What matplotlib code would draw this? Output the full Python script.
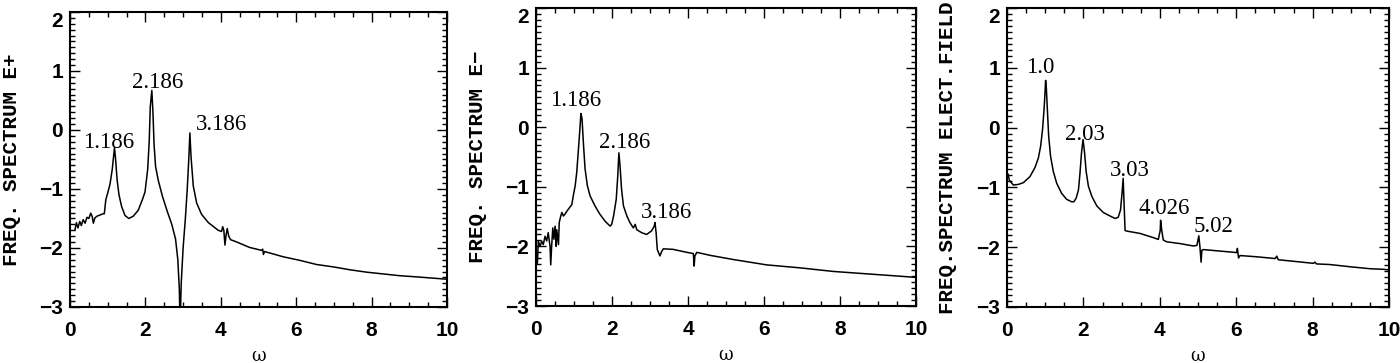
import matplotlib
matplotlib.use("Agg")
import matplotlib.pyplot as plt
from matplotlib.ticker import MultipleLocator

# panel 1: E+ spectrum
x_ep = [0.13, 0.17, 0.21, 0.26, 0.30, 0.35, 0.40, 0.45, 0.50, 0.55, 0.59, 0.62, 0.66, 0.72,
        0.80, 0.88, 0.91, 0.95, 1.00, 1.06, 1.12, 1.18, 1.21, 1.25, 1.30, 1.37, 1.46, 1.56,
        1.68, 1.81, 1.92, 1.99, 2.06, 2.10, 2.13, 2.17, 2.20, 2.23, 2.27, 2.34, 2.45, 2.58,
        2.70, 2.80, 2.86, 2.90, 2.92, 2.95, 3.00, 3.06, 3.11, 3.15, 3.18, 3.21, 3.27, 3.36,
        3.49, 3.67, 3.93, 4.02, 4.05, 4.08, 4.11, 4.14, 4.17, 4.21, 4.26, 4.39, 4.76, 5.08,
        5.11, 5.13, 5.16, 5.66, 6.10, 6.54, 6.98, 7.43, 7.87, 8.31, 8.75, 9.20, 9.81, 10.0]
y_ep = [-1.70, -1.57, -1.66, -1.55, -1.62, -1.52, -1.58, -1.48, -1.50, -1.41, -1.47, -1.58, -1.49, -1.46,
        -1.44, -1.42, -1.42, -1.18, -1.07, -0.92, -0.67, -0.30, -0.50, -0.85, -1.10, -1.30, -1.45, -1.50,
        -1.46, -1.36, -1.18, -1.05, -0.67, -0.21, 0.40, 0.67, 0.30, -0.25, -0.62, -0.85, -1.12, -1.38,
        -1.60, -1.85, -2.20, -2.70, -3.30, -2.60, -2.00, -1.50, -1.00, -0.50, -0.05, -0.45, -0.95, -1.24,
        -1.43, -1.57, -1.70, -1.72, -1.64, -1.70, -1.95, -1.78, -1.67, -1.80, -1.86, -1.89, -1.99, -2.04,
        -2.02, -2.11, -2.06, -2.15, -2.21, -2.28, -2.32, -2.37, -2.41, -2.44, -2.47, -2.49, -2.52, -2.53]

# panel 2: E- spectrum
x_em = [0.035, 0.06, 0.105, 0.149, 0.19, 0.237, 0.28, 0.32, 0.368, 0.386, 0.41, 0.44, 0.47, 0.50,
        0.53, 0.544, 0.59, 0.61, 0.65, 0.68, 0.72, 0.76, 0.81, 0.88, 0.94, 0.98, 1.03, 1.07,
        1.11, 1.16, 1.18, 1.21, 1.25, 1.29, 1.35, 1.42, 1.55, 1.68, 1.82, 1.95, 1.99, 2.04,
        2.11, 2.15, 2.18, 2.21, 2.25, 2.30, 2.39, 2.47, 2.56, 2.61, 2.65, 2.78, 2.91, 3.04,
        3.11, 3.13, 3.16, 3.19, 3.26, 3.31, 3.35, 3.61, 3.97, 4.14, 4.16, 4.18, 4.23, 4.58,
        5.19, 6.07, 6.95, 7.82, 8.70, 9.58, 10.0]
y_em = [-2.28, -1.91, -2.00, -1.91, -1.97, -1.83, -1.91, -1.77, -2.00, -2.31, -2.00, -1.69, -1.88, -1.66,
        -2.00, -1.72, -1.97, -1.60, -1.49, -1.43, -1.49, -1.46, -1.41, -1.35, -1.30, -1.15, -0.98, -0.76,
        -0.42, 0.03, 0.23, 0.14, -0.31, -0.70, -0.98, -1.15, -1.32, -1.46, -1.58, -1.66, -1.63, -1.49,
        -1.21, -0.82, -0.43, -0.65, -1.04, -1.32, -1.49, -1.60, -1.69, -1.63, -1.72, -1.77, -1.80, -1.74,
        -1.66, -1.60, -1.77, -2.05, -2.16, -2.08, -2.04, -2.05, -2.10, -2.12, -2.33, -2.16, -2.10, -2.15,
        -2.22, -2.31, -2.36, -2.42, -2.46, -2.50, -2.52]

# panel 3: electric field spectrum
x_ef = [0.03, 0.06, 0.165, 0.30, 0.43, 0.60, 0.73, 0.82, 0.88, 0.93, 0.97, 0.995, 1.01, 1.03,
        1.06, 1.09, 1.14, 1.21, 1.30, 1.43, 1.56, 1.69, 1.75, 1.81, 1.87, 1.91, 1.95, 1.99,
        2.03, 2.07, 2.13, 2.22, 2.35, 2.52, 2.70, 2.83, 2.91, 2.97, 3.01, 3.04, 3.06, 3.09,
        3.13, 3.48, 3.83, 3.96, 4.01, 4.02, 4.05, 4.09, 4.18, 4.53, 4.88, 4.97, 5.02, 5.05,
        5.08, 5.10, 5.14, 5.49, 5.84, 6.01, 6.03, 6.06, 6.10, 6.53, 7.02, 7.06, 7.10, 7.41,
        8.02, 8.06, 8.10, 8.45, 9.02, 9.50, 9.85, 10.0]
y_ef = [-0.78, -0.88, -0.96, -0.95, -0.92, -0.82, -0.67, -0.51, -0.31, -0.03, 0.31, 0.59, 0.79, 0.65,
        0.25, -0.14, -0.48, -0.73, -0.93, -1.10, -1.20, -1.24, -1.24, -1.18, -1.04, -0.76, -0.42, -0.20,
        -0.42, -0.73, -0.98, -1.15, -1.31, -1.42, -1.48, -1.52, -1.50, -1.38, -1.10, -0.85, -1.21, -1.72,
        -1.73, -1.77, -1.84, -1.87, -1.72, -1.55, -1.72, -1.88, -1.91, -1.94, -1.98, -1.97, -1.81, -2.00,
        -2.25, -2.05, -2.04, -2.06, -2.08, -2.09, -2.02, -2.18, -2.14, -2.16, -2.19, -2.15, -2.21, -2.23,
        -2.27, -2.25, -2.28, -2.29, -2.33, -2.36, -2.37, -2.38]

ylabels = ["FREQ. SPECTRUM E+", "FREQ. SPECTRUM E\u2212", "FREQ.SPECTRUM ELECT.FIELD"]

# peak labels: text, x, y (centre of text)
peaks_ep = [("1.186", 1.03, -0.21), ("2.186", 2.32, 0.81), ("3.186", 4.03, 0.10)]
peaks_em = [("1.186", 1.05, 0.45), ("2.186", 2.32, -0.25), ("3.186", 3.42, -1.43)]
peaks_ef = [("1.0", 0.87, 1.0), ("2.03", 2.03, -0.11), ("3.03", 3.21, -0.71),
            ("4.026", 4.11, -1.35), ("5.02", 5.41, -1.66)]

# axes rectangles in figure fractions
rects = [[0.0500, 0.1543, 0.2693, 0.8127],
         [0.3829, 0.1570, 0.2714, 0.8210],
         [0.7193, 0.1543, 0.2729, 0.8237]]

mono = "Liberation Mono"
serif = "Liberation Serif"
sans = "Liberation Sans"

fig = plt.figure(figsize=(14, 3.63), dpi=100)

panels = [(x_ep, y_ep, peaks_ep), (x_em, y_em, peaks_em), (x_ef, y_ef, peaks_ef)]
for i, (xs, ys, peaks) in enumerate(panels):
    ax = fig.add_axes(rects[i])
    ax.plot(xs, ys, color="black", lw=1.1)
    ax.set_xlim(0, 10)
    ax.set_ylim(-3, 2)
    ax.xaxis.set_major_locator(MultipleLocator(2))
    ax.xaxis.set_minor_locator(MultipleLocator(0.5))
    ax.yaxis.set_major_locator(MultipleLocator(1))
    ax.yaxis.set_minor_locator(MultipleLocator(0.1))
    ax.tick_params(which="both", direction="in", top=True, right=True, width=1.0)
    ax.tick_params(which="major", length=7)
    ax.tick_params(which="minor", length=3.5)
    ax.tick_params(axis="x", which="major", pad=10)
    ax.tick_params(axis="y", which="major", pad=5)
    for lab in ax.get_xticklabels() + ax.get_yticklabels():
        lab.set_fontfamily(sans)
        lab.set_fontweight("bold")
        lab.set_fontsize(15)
    for sp in ax.spines.values():
        sp.set_linewidth(1.5)

    ax.set_ylabel(ylabels[i], family=mono, fontweight="bold", fontsize=15, va="center")
    ax.yaxis.set_label_coords(-0.155, 0.5)
    ax.set_xlabel("\u03c9", family="DejaVu Serif", fontsize=13, va="center")
    ax.xaxis.set_label_coords(0.5, -0.165)

    for txt, tx, ty in peaks:
        ax.text(tx, ty, txt, family=serif, fontsize=16.5, ha="center", va="center")

    # top label "2" sits just under the tick, as in the source plot
    for tick in ax.yaxis.get_major_ticks():
        if abs(tick.get_loc() - 2) < 1e-6:
            tick.label1.set_va("top")

fig.savefig("out.png", dpi=100)
